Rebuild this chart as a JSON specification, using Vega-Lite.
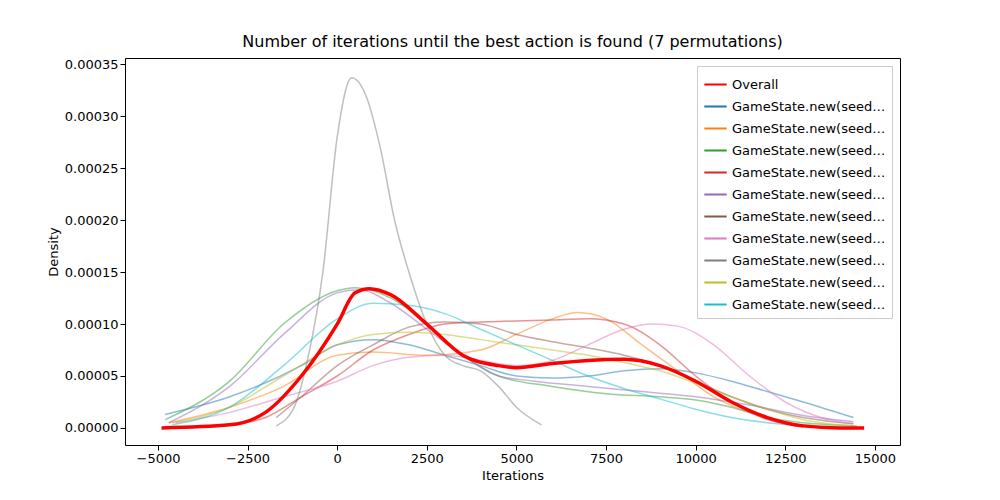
{
  "$schema": "https://vega.github.io/schema/vega-lite/v6.json",
  "autosize": "none",
  "padding": {"left": 125, "top": 58, "right": 100, "bottom": 55},
  "width": 775,
  "height": 387,
  "background": "white",
  "title": {"text": "Number of iterations until the best action is found (7 permutations)", "font": "DejaVu Sans", "fontSize": 16, "fontWeight": "normal", "offset": 8},
  "config": {
    "font": "DejaVu Sans",
    "view": {"stroke": "black", "strokeWidth": 1},
    "axis": {"grid": false, "domain": false, "tickColor": "black", "labelColor": "black", "labelFontSize": 13, "titleFontSize": 13, "titleFontWeight": "normal", "tickSize": 5, "labelFont": "DejaVu Sans", "titleFont": "DejaVu Sans"}
  },
  "data": {"values": [
    {"s":"GameState.new(seed=0)","x":-4800,"y":0.000013},{"s":"GameState.new(seed=0)","x":-3000,"y":0.00003},{"s":"GameState.new(seed=0)","x":-1000,"y":0.00006},{"s":"GameState.new(seed=0)","x":0,"y":0.00008},{"s":"GameState.new(seed=0)","x":1000,"y":0.000085},{"s":"GameState.new(seed=0)","x":2000,"y":0.00008},{"s":"GameState.new(seed=0)","x":3000,"y":0.00007},{"s":"GameState.new(seed=0)","x":4000,"y":0.00006},{"s":"GameState.new(seed=0)","x":5000,"y":0.00005},{"s":"GameState.new(seed=0)","x":6000,"y":0.000048},{"s":"GameState.new(seed=0)","x":7000,"y":0.00005},{"s":"GameState.new(seed=0)","x":8000,"y":0.000055},{"s":"GameState.new(seed=0)","x":9000,"y":0.000057},{"s":"GameState.new(seed=0)","x":10000,"y":0.000053},{"s":"GameState.new(seed=0)","x":11000,"y":0.000045},{"s":"GameState.new(seed=0)","x":12000,"y":0.000035},{"s":"GameState.new(seed=0)","x":13000,"y":0.000025},{"s":"GameState.new(seed=0)","x":14400,"y":0.00001},
    {"s":"GameState.new(seed=1)","x":-4700,"y":0.000005},{"s":"GameState.new(seed=1)","x":-3000,"y":0.00002},{"s":"GameState.new(seed=1)","x":-1500,"y":0.00004},{"s":"GameState.new(seed=1)","x":0,"y":0.00007},{"s":"GameState.new(seed=1)","x":1000,"y":0.000073},{"s":"GameState.new(seed=1)","x":2500,"y":0.00007},{"s":"GameState.new(seed=1)","x":4000,"y":0.000075},{"s":"GameState.new(seed=1)","x":5000,"y":0.00009},{"s":"GameState.new(seed=1)","x":6000,"y":0.000105},{"s":"GameState.new(seed=1)","x":6700,"y":0.000111},{"s":"GameState.new(seed=1)","x":7500,"y":0.000105},{"s":"GameState.new(seed=1)","x":8500,"y":0.00008},{"s":"GameState.new(seed=1)","x":9500,"y":0.000055},{"s":"GameState.new(seed=1)","x":10500,"y":0.00003},{"s":"GameState.new(seed=1)","x":11500,"y":0.000015},{"s":"GameState.new(seed=1)","x":12500,"y":0.000005},{"s":"GameState.new(seed=1)","x":14000,"y":0.000001},
    {"s":"GameState.new(seed=2)","x":-4800,"y":0.000008},{"s":"GameState.new(seed=2)","x":-3000,"y":0.000045},{"s":"GameState.new(seed=2)","x":-1500,"y":0.0001},{"s":"GameState.new(seed=2)","x":0,"y":0.000132},{"s":"GameState.new(seed=2)","x":500,"y":0.000135},{"s":"GameState.new(seed=2)","x":1500,"y":0.000125},{"s":"GameState.new(seed=2)","x":2500,"y":0.0001},{"s":"GameState.new(seed=2)","x":3500,"y":0.00007},{"s":"GameState.new(seed=2)","x":4500,"y":0.00005},{"s":"GameState.new(seed=2)","x":6000,"y":0.00004},{"s":"GameState.new(seed=2)","x":7500,"y":0.000033},{"s":"GameState.new(seed=2)","x":9000,"y":0.00003},{"s":"GameState.new(seed=2)","x":10000,"y":0.000027},{"s":"GameState.new(seed=2)","x":11000,"y":0.00002},{"s":"GameState.new(seed=2)","x":12000,"y":0.00001},{"s":"GameState.new(seed=2)","x":13000,"y":0.000005},{"s":"GameState.new(seed=2)","x":14500,"y":0.000002},
    {"s":"GameState.new(seed=3)","x":-2900,"y":0.000003},{"s":"GameState.new(seed=3)","x":-2000,"y":0.00001},{"s":"GameState.new(seed=3)","x":-1000,"y":0.00003},{"s":"GameState.new(seed=3)","x":0,"y":0.00005},{"s":"GameState.new(seed=3)","x":1000,"y":0.000075},{"s":"GameState.new(seed=3)","x":2000,"y":0.00009},{"s":"GameState.new(seed=3)","x":3000,"y":0.0001},{"s":"GameState.new(seed=3)","x":4000,"y":0.000102},{"s":"GameState.new(seed=3)","x":5000,"y":0.000103},{"s":"GameState.new(seed=3)","x":6000,"y":0.000104},{"s":"GameState.new(seed=3)","x":7000,"y":0.000105},{"s":"GameState.new(seed=3)","x":8000,"y":0.0001},{"s":"GameState.new(seed=3)","x":9000,"y":0.00008},{"s":"GameState.new(seed=3)","x":10000,"y":0.00005},{"s":"GameState.new(seed=3)","x":11000,"y":0.000025},{"s":"GameState.new(seed=3)","x":12000,"y":0.000008},{"s":"GameState.new(seed=3)","x":13000,"y":0.000001},
    {"s":"GameState.new(seed=4)","x":-4700,"y":0.000005},{"s":"GameState.new(seed=4)","x":-3000,"y":0.00004},{"s":"GameState.new(seed=4)","x":-1500,"y":0.00009},{"s":"GameState.new(seed=4)","x":0,"y":0.00013},{"s":"GameState.new(seed=4)","x":600,"y":0.000133},{"s":"GameState.new(seed=4)","x":1500,"y":0.00012},{"s":"GameState.new(seed=4)","x":2500,"y":0.000095},{"s":"GameState.new(seed=4)","x":3500,"y":0.00007},{"s":"GameState.new(seed=4)","x":4500,"y":0.00005},{"s":"GameState.new(seed=4)","x":5500,"y":0.000045},{"s":"GameState.new(seed=4)","x":7000,"y":0.00004},{"s":"GameState.new(seed=4)","x":8500,"y":0.000035},{"s":"GameState.new(seed=4)","x":10000,"y":0.00003},{"s":"GameState.new(seed=4)","x":11500,"y":0.000022},{"s":"GameState.new(seed=4)","x":13000,"y":0.000012},{"s":"GameState.new(seed=4)","x":14400,"y":0.000006},
    {"s":"GameState.new(seed=5)","x":-1700,"y":0.00001},{"s":"GameState.new(seed=5)","x":-1000,"y":0.00003},{"s":"GameState.new(seed=5)","x":0,"y":0.00006},{"s":"GameState.new(seed=5)","x":1000,"y":0.00008},{"s":"GameState.new(seed=5)","x":2000,"y":0.000097},{"s":"GameState.new(seed=5)","x":3000,"y":0.000102},{"s":"GameState.new(seed=5)","x":4000,"y":0.0001},{"s":"GameState.new(seed=5)","x":5000,"y":0.00009},{"s":"GameState.new(seed=5)","x":6000,"y":0.000083},{"s":"GameState.new(seed=5)","x":7000,"y":0.000077},{"s":"GameState.new(seed=5)","x":8000,"y":0.00007},{"s":"GameState.new(seed=5)","x":9000,"y":0.00006},{"s":"GameState.new(seed=5)","x":10000,"y":0.000045},{"s":"GameState.new(seed=5)","x":11000,"y":0.00003},{"s":"GameState.new(seed=5)","x":12000,"y":0.000018},{"s":"GameState.new(seed=5)","x":13000,"y":0.00001},{"s":"GameState.new(seed=5)","x":14400,"y":0.000004},
    {"s":"GameState.new(seed=6)","x":-4500,"y":0.000005},{"s":"GameState.new(seed=6)","x":-3000,"y":0.000015},{"s":"GameState.new(seed=6)","x":-1500,"y":0.00003},{"s":"GameState.new(seed=6)","x":0,"y":0.000045},{"s":"GameState.new(seed=6)","x":1000,"y":0.00006},{"s":"GameState.new(seed=6)","x":2000,"y":0.000068},{"s":"GameState.new(seed=6)","x":3000,"y":0.00007},{"s":"GameState.new(seed=6)","x":4000,"y":0.000065},{"s":"GameState.new(seed=6)","x":5000,"y":0.00006},{"s":"GameState.new(seed=6)","x":6000,"y":0.000065},{"s":"GameState.new(seed=6)","x":7000,"y":0.00008},{"s":"GameState.new(seed=6)","x":8000,"y":0.000095},{"s":"GameState.new(seed=6)","x":8800,"y":0.0001},{"s":"GameState.new(seed=6)","x":9500,"y":0.000098},{"s":"GameState.new(seed=6)","x":10500,"y":0.00008},{"s":"GameState.new(seed=6)","x":11500,"y":0.00005},{"s":"GameState.new(seed=6)","x":12500,"y":0.000025},{"s":"GameState.new(seed=6)","x":13500,"y":0.00001},{"s":"GameState.new(seed=6)","x":14400,"y":0.000004},
    {"s":"GameState.new(seed=7)","x":-1700,"y":0.000002},{"s":"GameState.new(seed=7)","x":-1200,"y":0.00002},{"s":"GameState.new(seed=7)","x":-800,"y":0.00007},{"s":"GameState.new(seed=7)","x":-400,"y":0.00015},{"s":"GameState.new(seed=7)","x":0,"y":0.00028},{"s":"GameState.new(seed=7)","x":400,"y":0.000337},{"s":"GameState.new(seed=7)","x":800,"y":0.00032},{"s":"GameState.new(seed=7)","x":1200,"y":0.00027},{"s":"GameState.new(seed=7)","x":1600,"y":0.0002},{"s":"GameState.new(seed=7)","x":2000,"y":0.00015},{"s":"GameState.new(seed=7)","x":2500,"y":0.0001},{"s":"GameState.new(seed=7)","x":3000,"y":0.00007},{"s":"GameState.new(seed=7)","x":3500,"y":0.00006},{"s":"GameState.new(seed=7)","x":4000,"y":0.000055},{"s":"GameState.new(seed=7)","x":4500,"y":0.00004},{"s":"GameState.new(seed=7)","x":5000,"y":0.00002},{"s":"GameState.new(seed=7)","x":5700,"y":0.000003},
    {"s":"GameState.new(seed=8)","x":-4600,"y":0.000005},{"s":"GameState.new(seed=8)","x":-3000,"y":0.00002},{"s":"GameState.new(seed=8)","x":-1500,"y":0.00005},{"s":"GameState.new(seed=8)","x":0,"y":0.00008},{"s":"GameState.new(seed=8)","x":1000,"y":0.00009},{"s":"GameState.new(seed=8)","x":2000,"y":0.000092},{"s":"GameState.new(seed=8)","x":3000,"y":0.00009},{"s":"GameState.new(seed=8)","x":4000,"y":0.000085},{"s":"GameState.new(seed=8)","x":5000,"y":0.00008},{"s":"GameState.new(seed=8)","x":6000,"y":0.000075},{"s":"GameState.new(seed=8)","x":7000,"y":0.00007},{"s":"GameState.new(seed=8)","x":8000,"y":0.000063},{"s":"GameState.new(seed=8)","x":9000,"y":0.000055},{"s":"GameState.new(seed=8)","x":10000,"y":0.000043},{"s":"GameState.new(seed=8)","x":11000,"y":0.00003},{"s":"GameState.new(seed=8)","x":12000,"y":0.000018},{"s":"GameState.new(seed=8)","x":13000,"y":0.000008},{"s":"GameState.new(seed=8)","x":14400,"y":0.000002},
    {"s":"GameState.new(seed=9)","x":-4600,"y":0.000003},{"s":"GameState.new(seed=9)","x":-3000,"y":0.00002},{"s":"GameState.new(seed=9)","x":-1500,"y":0.00006},{"s":"GameState.new(seed=9)","x":0,"y":0.000105},{"s":"GameState.new(seed=9)","x":1000,"y":0.00012},{"s":"GameState.new(seed=9)","x":2000,"y":0.000118},{"s":"GameState.new(seed=9)","x":3000,"y":0.00011},{"s":"GameState.new(seed=9)","x":4000,"y":0.000095},{"s":"GameState.new(seed=9)","x":5000,"y":0.00008},{"s":"GameState.new(seed=9)","x":6000,"y":0.000065},{"s":"GameState.new(seed=9)","x":7000,"y":0.00005},{"s":"GameState.new(seed=9)","x":8000,"y":0.000038},{"s":"GameState.new(seed=9)","x":9000,"y":0.000028},{"s":"GameState.new(seed=9)","x":10000,"y":0.000018},{"s":"GameState.new(seed=9)","x":11000,"y":0.00001},{"s":"GameState.new(seed=9)","x":12000,"y":0.000005},{"s":"GameState.new(seed=9)","x":13000,"y":0.000002},{"s":"GameState.new(seed=9)","x":14300,"y":0},
    {"s":"Overall","x":-4900,"y":0},{"s":"Overall","x":-3000,"y":0.000003},{"s":"Overall","x":-2000,"y":0.000015},{"s":"Overall","x":-1000,"y":0.00005},{"s":"Overall","x":0,"y":0.0001},{"s":"Overall","x":500,"y":0.00013},{"s":"Overall","x":900,"y":0.000134},{"s":"Overall","x":1500,"y":0.000128},{"s":"Overall","x":2500,"y":0.0001},{"s":"Overall","x":3500,"y":0.00007},{"s":"Overall","x":4500,"y":0.00006},{"s":"Overall","x":5000,"y":0.000058},{"s":"Overall","x":6000,"y":0.000062},{"s":"Overall","x":7000,"y":0.000065},{"s":"Overall","x":8000,"y":0.000066},{"s":"Overall","x":9000,"y":0.00006},{"s":"Overall","x":10000,"y":0.000045},{"s":"Overall","x":11000,"y":0.000025},{"s":"Overall","x":12000,"y":0.00001},{"s":"Overall","x":13000,"y":0.000002},{"s":"Overall","x":14000,"y":0},{"s":"Overall","x":14700,"y":0}
  ]},
  "mark": {"type": "line", "interpolate": "monotone", "clip": true},
  "encoding": {
    "x": {"field": "x", "type": "quantitative", "title": "Iterations", "scale": {"domain": [-5920, 15700], "nice": false, "zero": false}, "axis": {"values": [-5000, -2500, 0, 2500, 5000, 7500, 10000, 12500, 15000], "format": "d"}},
    "y": {"field": "y", "type": "quantitative", "title": "Density", "scale": {"domain": [-0.0000164, 0.000356], "nice": false, "zero": false}, "axis": {"values": [0, 0.00005, 0.0001, 0.00015, 0.0002, 0.00025, 0.0003, 0.00035], "format": ".5f"}},
    "color": {"field": "s", "type": "nominal", "title": null,
      "scale": {"domain": ["Overall","GameState.new(seed=0)","GameState.new(seed=1)","GameState.new(seed=2)","GameState.new(seed=3)","GameState.new(seed=4)","GameState.new(seed=5)","GameState.new(seed=6)","GameState.new(seed=7)","GameState.new(seed=8)","GameState.new(seed=9)"],
        "range": ["#ff0000","#1f77b4","#ff7f0e","#2ca02c","#d62728","#9467bd","#8c564b","#e377c2","#7f7f7f","#bcbd22","#17becf"]},
      "legend": {"orient": "top-right", "offset": 8, "symbolType": "stroke", "symbolSize": 500, "labelFontSize": 13, "labelFont": "DejaVu Sans", "strokeColor": "#cccccc", "fillColor": "white", "padding": 6, "rowPadding": 2, "symbolStrokeWidth": 2}},
    "opacity": {"condition": {"test": "datum.s === 'Overall'", "value": 1}, "value": 0.5},
    "strokeWidth": {"condition": {"test": "datum.s === 'Overall'", "value": 3.5}, "value": 1.5}
  }
}
